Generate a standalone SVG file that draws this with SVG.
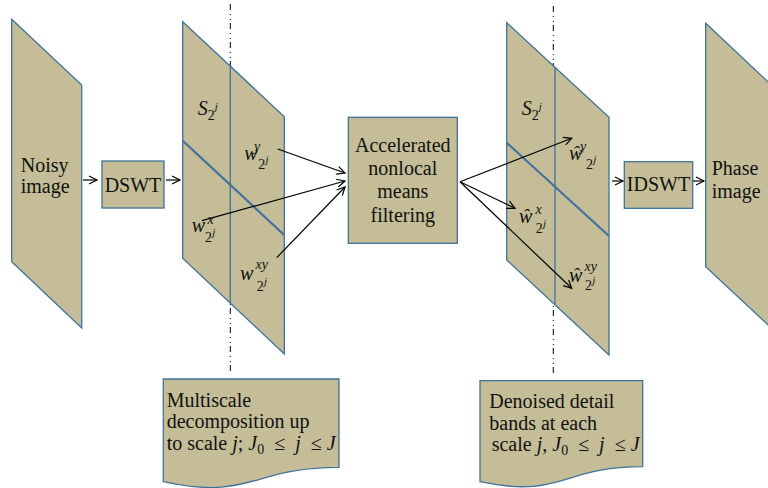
<svg xmlns="http://www.w3.org/2000/svg" width="768" height="488" viewBox="0 0 768 488">
<defs>
<style>
.sh{fill:#c4bd97;stroke:#41719c;stroke-width:1.3}
.dv{fill:none;stroke:#41719c;stroke-width:1.3}
.dg{fill:none;stroke:#41719c;stroke-width:2.2}
.t{font-family:"Liberation Serif",serif;font-size:20px;fill:#111}
.m{font-family:"Liberation Serif",serif;font-size:20px;font-style:italic;fill:#111}
.sub{font-size:14px;font-style:normal}
.sup{font-size:11px;font-style:italic}
.sp{font-size:14px;font-style:italic}
.c{fill:none;stroke:#000;stroke-width:1.2}
.dd{fill:none;stroke:#000;stroke-width:1;stroke-dasharray:6 4 1 4 1 3}
</style>
<marker id="ah" markerUnits="userSpaceOnUse" markerWidth="12" markerHeight="12" refX="9" refY="5" orient="auto" viewBox="0 0 12 10">
<path d="M1,1 L9,5 L1,9" fill="none" stroke="#000" stroke-width="1.2"/>
</marker>
</defs>
<rect width="768" height="488" fill="#fff"/>

<g id="guides">
<line class="dd" x1="230.3" y1="4" x2="230.3" y2="374"/>
<line class="dd" x1="553.3" y1="6" x2="553.3" y2="374"/>
</g>

<g id="noisy-image">
<polygon class="sh" points="11.7,19.3 81.7,85 81.7,328 11.7,261.7"/>
<text class="t" x="20.7" y="171.7">Noisy</text>
<text class="t" x="20.7" y="193.3">image</text>
</g>

<g id="dswt">
<rect class="sh" x="102" y="161" width="62" height="47"/>
<text class="t" x="133" y="191.7" text-anchor="middle">DSWT</text>
</g>

<g id="decomposition">
<polygon class="sh" points="182.7,21.7 284.3,116.7 284.3,354 182.7,258.3"/>
<line class="dv" x1="230.3" y1="66.7" x2="230.3" y2="303"/>
<line class="dg" x1="182.7" y1="140.7" x2="284.3" y2="235"/>
<text class="m" x="197.7" y="115">S<tspan class="sub" dy="5">2</tspan><tspan class="sup" dy="-10">j</tspan></text>
<text class="m" x="244.3" y="160">w<tspan class="sp" x="254" y="151">y</tspan><tspan class="sub" x="258.3" y="169">2</tspan><tspan class="sup" x="265.5" y="163">j</tspan></text>
<text class="m" x="191.7" y="232.3">w<tspan class="sp" x="207.5" y="224">x</tspan><tspan class="sub" x="205" y="241.7">2</tspan><tspan class="sup" x="212.2" y="235.7">j</tspan></text>
<text class="m" x="240" y="280">w<tspan class="sp" x="255.5" y="269">xy</tspan><tspan class="sub" x="256.7" y="291">2</tspan><tspan class="sup" x="263.9" y="285">j</tspan></text>
</g>

<g id="nl-means">
<rect class="sh" x="348.3" y="117.3" width="109" height="126"/>
<text class="t" x="402.8" y="151.7" text-anchor="middle">Accelerated</text>
<text class="t" x="402.8" y="175" text-anchor="middle">nonlocal</text>
<text class="t" x="402.8" y="198.3" text-anchor="middle">means</text>
<text class="t" x="402.8" y="221.7" text-anchor="middle">filtering</text>
</g>

<g id="denoised">
<polygon class="sh" points="506.7,22.7 609,117.3 609,355 506.7,260"/>
<line class="dv" x1="555" y1="66.7" x2="555" y2="304"/>
<line class="dg" x1="506.7" y1="142.7" x2="609" y2="236"/>
<text class="m" x="521.7" y="115">S<tspan class="sub" dy="5">2</tspan><tspan class="sup" dy="-10">j</tspan></text>
<text class="m" x="569" y="160">ŵ<tspan class="sp" x="580" y="151">y</tspan><tspan class="sub" x="586" y="169">2</tspan><tspan class="sup" x="593.2" y="163">j</tspan></text>
<text class="m" x="519" y="223.3">ŵ<tspan class="sp" x="535.5" y="214">x</tspan><tspan class="sub" x="535.7" y="233.3">2</tspan><tspan class="sup" x="542.9" y="227.3">j</tspan></text>
<text class="m" x="569" y="281.7">ŵ<tspan class="sp" x="584.5" y="271">xy</tspan><tspan class="sub" x="585" y="290">2</tspan><tspan class="sup" x="592.2" y="284">j</tspan></text>
</g>

<g id="idswt">
<rect class="sh" x="624.3" y="161.7" width="68.4" height="46.6"/>
<text class="t" x="658.5" y="191" text-anchor="middle">IDSWT</text>
</g>

<g id="phase-image">
<polygon class="sh" points="705.7,23.3 775.7,89 775.7,332 705.7,266.7"/>
<text class="t" x="711.7" y="175">Phase</text>
<text class="t" x="711.7" y="198">image</text>
</g>

<g id="note-left">
<path class="sh" d="M163.3,379 L339,379 L339,467.3 C251.2,467.3 251.2,500.8 163.3,481.7 Z"/>
<text class="t" x="166.7" y="406.7">Multiscale</text>
<text class="t" x="166.7" y="428.3">decomposition up</text>
<text class="t" x="166.7" y="450">to scale <tspan font-style="italic">j</tspan>; <tspan font-style="italic">J</tspan><tspan font-size="14" dy="4">0</tspan><tspan dy="-4" xml:space="preserve">  ≤  </tspan><tspan font-style="italic">j</tspan><tspan xml:space="preserve">  ≤ </tspan><tspan font-style="italic">J</tspan></text>
</g>

<g id="note-right">
<path class="sh" d="M480,380.7 L642.7,380.7 L642.7,466.7 C561.3,466.7 561.3,499 480,481.7 Z"/>
<text class="t" x="489.3" y="408.3">Denoised detail</text>
<text class="t" x="489.3" y="430">bands at each</text>
<text class="t" x="491.7" y="450.7">scale <tspan font-style="italic">j</tspan>, <tspan font-style="italic">J</tspan><tspan font-size="14" dy="4">0</tspan><tspan dy="-4" xml:space="preserve">  ≤  </tspan><tspan font-style="italic">j</tspan><tspan xml:space="preserve">  ≤ </tspan><tspan font-style="italic">J</tspan></text>
</g>

<g id="connectors">
<line class="c" x1="83" y1="180" x2="97" y2="180" marker-end="url(#ah)"/>
<line class="c" x1="166" y1="180" x2="180" y2="180" marker-end="url(#ah)"/>
<line class="c" x1="277.7" y1="149" x2="345" y2="173" marker-end="url(#ah)"/>
<line class="c" x1="202" y1="220.7" x2="345" y2="181" marker-end="url(#ah)"/>
<line class="c" x1="276.7" y1="257.7" x2="345" y2="187" marker-end="url(#ah)"/>
<line class="c" x1="460" y1="181.7" x2="571.7" y2="138.3" marker-end="url(#ah)"/>
<line class="c" x1="460" y1="181.7" x2="515" y2="208.3" marker-end="url(#ah)"/>
<line class="c" x1="460" y1="181.7" x2="571.7" y2="288.3" marker-end="url(#ah)"/>
<line class="c" x1="612" y1="181" x2="623" y2="181" marker-end="url(#ah)"/>
<line class="c" x1="693" y1="181" x2="704" y2="181" marker-end="url(#ah)"/>
</g>
</svg>
